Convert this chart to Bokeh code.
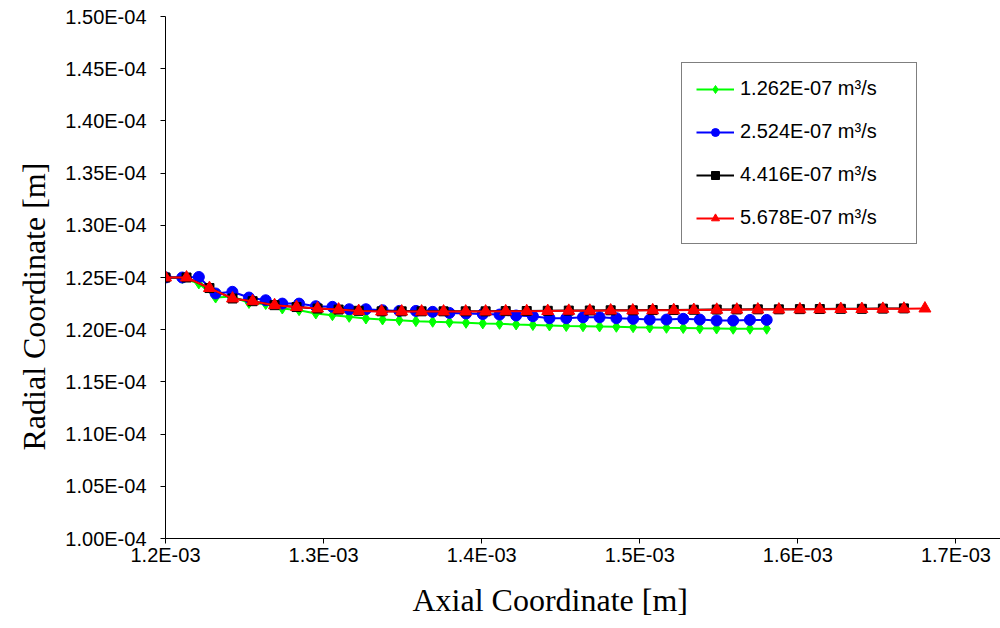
import numpy as np
from bokeh.plotting import figure
from bokeh.models import (Range1d, FixedTicker, CustomJSTickFormatter, Legend,
                          LegendItem, Title)
from bokeh.embed import file_html
from bokeh.resources import INLINE

# ---------------- data ----------------
# axial positions shared by the 1.262E-07 and 2.524E-07 series
x_low = [1.2000e-3, 1.2106e-3, 1.2211e-3, 1.2317e-3, 1.2423e-3, 1.2528e-3, 1.2634e-3,
         1.2739e-3, 1.2845e-3, 1.2951e-3, 1.3056e-3, 1.3162e-3, 1.3268e-3, 1.3373e-3,
         1.3479e-3, 1.3584e-3, 1.3690e-3, 1.3796e-3, 1.3901e-3, 1.4007e-3, 1.4113e-3,
         1.4218e-3, 1.4324e-3, 1.4429e-3, 1.4535e-3, 1.4641e-3, 1.4746e-3, 1.4852e-3,
         1.4958e-3, 1.5063e-3, 1.5169e-3, 1.5275e-3, 1.5380e-3, 1.5486e-3, 1.5591e-3,
         1.5697e-3, 1.5803e-3]
y_green = [1.2500e-4, 1.2495e-4, 1.2443e-4, 1.2308e-4, 1.2318e-4, 1.2256e-4, 1.2246e-4,
           1.2203e-4, 1.2187e-4, 1.2155e-4, 1.2139e-4, 1.2123e-4, 1.2107e-4, 1.2098e-4,
           1.2091e-4, 1.2082e-4, 1.2076e-4, 1.2072e-4, 1.2066e-4, 1.2060e-4, 1.2056e-4,
           1.2050e-4, 1.2045e-4, 1.2040e-4, 1.2035e-4, 1.2033e-4, 1.2031e-4, 1.2028e-4,
           1.2024e-4, 1.2021e-4, 1.2018e-4, 1.2016e-4, 1.2013e-4, 1.2011e-4, 1.2009e-4,
           1.2009e-4, 1.2009e-4]
y_blue = [1.2500e-4, 1.2500e-4, 1.2505e-4, 1.2347e-4, 1.2363e-4, 1.2308e-4, 1.2282e-4,
          1.2250e-4, 1.2250e-4, 1.2225e-4, 1.2219e-4, 1.2196e-4, 1.2196e-4, 1.2186e-4,
          1.2180e-4, 1.2180e-4, 1.2171e-4, 1.2161e-4, 1.2155e-4, 1.2150e-4, 1.2145e-4,
          1.2136e-4, 1.2129e-4, 1.2110e-4, 1.2110e-4, 1.2119e-4, 1.2119e-4, 1.2110e-4,
          1.2104e-4, 1.2097e-4, 1.2097e-4, 1.2104e-4, 1.2097e-4, 1.2088e-4, 1.2088e-4,
          1.2094e-4, 1.2094e-4]

# axial positions of the 4.416E-07 and 5.678E-07 series
x_high = [1.2000e-3, 1.2133e-3, 1.2278e-3, 1.2424e-3, 1.2551e-3, 1.2690e-3, 1.2829e-3,
          1.2962e-3, 1.3095e-3, 1.3222e-3, 1.3367e-3, 1.3494e-3, 1.3620e-3, 1.3759e-3,
          1.3899e-3, 1.4025e-3, 1.4152e-3, 1.4285e-3, 1.4418e-3, 1.4551e-3, 1.4684e-3,
          1.4816e-3, 1.4956e-3, 1.5082e-3, 1.5215e-3, 1.5342e-3, 1.5487e-3, 1.5614e-3,
          1.5747e-3, 1.5880e-3, 1.6013e-3, 1.6139e-3, 1.6272e-3, 1.6405e-3, 1.6538e-3,
          1.6671e-3, 1.6804e-3]
x_black = x_high[:36]
y_black = [1.2500e-4, 1.2500e-4, 1.2399e-4, 1.2299e-4, 1.2273e-4, 1.2235e-4, 1.2217e-4,
           1.2203e-4, 1.2193e-4, 1.2181e-4, 1.2176e-4, 1.2176e-4, 1.2176e-4, 1.2176e-4,
           1.2176e-4, 1.2176e-4, 1.2178e-4, 1.2179e-4, 1.2181e-4, 1.2183e-4, 1.2184e-4,
           1.2186e-4, 1.2186e-4, 1.2188e-4, 1.2189e-4, 1.2191e-4, 1.2193e-4, 1.2194e-4,
           1.2195e-4, 1.2195e-4, 1.2197e-4, 1.2198e-4, 1.2200e-4, 1.2200e-4, 1.2202e-4,
           1.2204e-4]
y_red = [1.2500e-4, 1.2500e-4, 1.2399e-4, 1.2299e-4, 1.2273e-4, 1.2235e-4, 1.2217e-4,
         1.2203e-4, 1.2193e-4, 1.2179e-4, 1.2174e-4, 1.2174e-4, 1.2174e-4, 1.2174e-4,
         1.2174e-4, 1.2174e-4, 1.2176e-4, 1.2177e-4, 1.2179e-4, 1.2181e-4, 1.2182e-4,
         1.2184e-4, 1.2184e-4, 1.2186e-4, 1.2187e-4, 1.2189e-4, 1.2191e-4, 1.2192e-4,
         1.2193e-4, 1.2193e-4, 1.2195e-4, 1.2196e-4, 1.2198e-4, 1.2198e-4, 1.2200e-4,
         1.2201e-4, 1.2203e-4]

series_labels = ["1.262E-07 m\u00b3/s", "2.524E-07 m\u00b3/s",
                 "4.416E-07 m\u00b3/s", "5.678E-07 m\u00b3/s"]

x_ticks = [1.2e-3, 1.3e-3, 1.4e-3, 1.5e-3, 1.6e-3, 1.7e-3]
x_tick_labels = ["1.2E-03", "1.3E-03", "1.4E-03", "1.5E-03", "1.6E-03", "1.7E-03"]
y_ticks = [1.00e-4, 1.05e-4, 1.10e-4, 1.15e-4, 1.20e-4, 1.25e-4,
           1.30e-4, 1.35e-4, 1.40e-4, 1.45e-4, 1.50e-4]
y_tick_labels = ["1.00E-04", "1.05E-04", "1.10E-04", "1.15E-04", "1.20E-04", "1.25E-04",
                 "1.30E-04", "1.35E-04", "1.40E-04", "1.45E-04", "1.50E-04"]

x_title = "Axial Coordinate [m]"
y_title = "Radial Coordinate [m]"

# ---------------- figure ----------------
p = figure(width=1000, height=628, output_backend="svg", toolbar_location=None,
           x_range=Range1d(1.2e-3, 1.7282e-3), y_range=Range1d(1.0e-4, 1.5e-4),
           min_border_left=165, min_border_right=0, min_border_top=16,
           min_border_bottom=90)
p.outline_line_color = None
p.xgrid.visible = False
p.ygrid.visible = False
p.background_fill_color = "white"
p.border_fill_color = "white"

fmt_code = """
let best = 0; let d = Infinity;
for (let i = 0; i < tv.length; i++) {
  const e = Math.abs(tv[i] - tick);
  if (e < d) { d = e; best = i; }
}
return tl[best];
"""
p.xaxis.ticker = FixedTicker(ticks=x_ticks)
p.xaxis.formatter = CustomJSTickFormatter(args=dict(tv=x_ticks, tl=x_tick_labels),
                                          code=fmt_code)
p.yaxis.ticker = FixedTicker(ticks=y_ticks)
p.yaxis.formatter = CustomJSTickFormatter(args=dict(tv=y_ticks, tl=y_tick_labels),
                                          code=fmt_code)
for ax in (p.xaxis, p.yaxis):
    ax.major_label_text_font = "Liberation Sans"
    ax.major_label_text_font_size = "20px"
    ax.major_label_text_color = "black"
    ax.axis_line_color = "black"
    ax.axis_line_width = 1
    ax.major_tick_line_color = "black"
    ax.major_tick_out = 5
    ax.major_tick_in = 0
    ax.minor_tick_out = 0
    ax.minor_tick_in = 0
p.xaxis.major_label_standoff = 0
p.yaxis.major_label_standoff = 14

# ---------------- series ----------------
lg = p.line(x_low, y_green, line_color="#00FF00", line_width=2)
sg = p.scatter(x_low, y_green, marker="diamond", size=11,
               fill_color="#00FF00", line_color="#00FF00")
lb = p.line(x_low, y_blue, line_color="#0000FF", line_width=2)
sb = p.scatter(x_low, y_blue, marker="circle", size=11,
               fill_color="#0000FF", line_color="#0000FF")
lk = p.line(x_black, y_black, line_color="black", line_width=2)
sk = p.scatter(x_black, y_black, marker="square", size=9,
               fill_color="black", line_color="black")
lr = p.line(x_high, y_red, line_color="#FF0000", line_width=2)
sr = p.scatter(x_high, y_red, marker="triangle", size=12,
               fill_color="#FF0000", line_color="#FF0000")

legend = Legend(items=[
    LegendItem(label=series_labels[0], renderers=[lg, sg]),
    LegendItem(label=series_labels[1], renderers=[lb, sb]),
    LegendItem(label=series_labels[2], renderers=[lk, sk]),
    LegendItem(label=series_labels[3], renderers=[lr, sr]),
])
legend.location = (516, 294)
legend.border_line_color = "black"
legend.border_line_width = 1
legend.background_fill_color = "white"
legend.background_fill_alpha = 1
legend.padding = 14
legend.margin = 0
legend.spacing = 20
legend.glyph_width = 38
legend.glyph_height = 20
legend.label_height = 20
legend.label_width = 162
legend.label_standoff = 6
legend.label_text_font = "Liberation Sans"
legend.label_text_font_size = "20px"
legend.label_text_color = "black"
p.add_layout(legend)

xt = Title(text=x_title, align="left", offset=247, text_font="Liberation Serif",
           text_font_size="32px", text_font_style="normal", text_color="black",
           standoff=22)
p.add_layout(xt, "below")
yt = Title(text=y_title, align="left", offset=88, text_font="Liberation Serif",
           text_font_size="32px", text_font_style="normal", text_color="black",
           standoff=21)
p.add_layout(yt, "left")

open("out.html", "w").write(file_html(p, INLINE))
